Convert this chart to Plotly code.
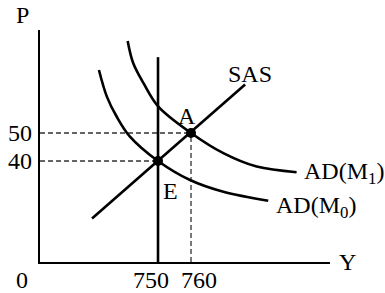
import plotly.graph_objects as go

# ---- data ----
ad1_y = [740.8, 742.5, 745.6, 750.1, 760.0, 769.8, 779.9, 792.0]
ad1_p = [82.9, 74.9, 67.8, 59.4, 50.0, 42.8, 38.0, 36.0]
ad0_y = [732.1, 734.5, 737.5, 741.5, 750.0, 759.7, 769.8, 783.4]
ad0_p = [72.5, 63.0, 55.8, 48.7, 40.0, 33.2, 29.0, 25.8]
sas_y = [730.0, 776.4]
sas_p = [19.5, 67.3]
las_y = [750.0, 750.0]
las_p = [3.93, 77.1]
eq_names = ["E", "A"]
eq_y = [750, 760]
eq_p = [40, 50]
x_ticks = [750, 760]
x_tick_text = ["750", "760"]
y_ticks = [40, 50]
y_tick_text = ["40", "50"]
x_range = [714.24, 802.12]
y_range = [3.93, 86.79]

FONT = "Liberation Serif, Times New Roman, serif"
FS = 24
W, H = 385, 293
L, R, T, B = 40, 55, 30, 31

fig = go.Figure()

dash_style = dict(color="#333", width=1.3, dash="5px,3px")
fig.add_trace(go.Scatter(x=[x_range[0], eq_y[0]], y=[eq_p[0], eq_p[0]], mode="lines",
                         line=dash_style, hoverinfo="skip"))
fig.add_trace(go.Scatter(x=[x_range[0], eq_y[1]], y=[eq_p[1], eq_p[1]], mode="lines",
                         line=dash_style, hoverinfo="skip"))
fig.add_trace(go.Scatter(x=[eq_y[1], eq_y[1]], y=[y_range[0], eq_p[1]], mode="lines",
                         line=dash_style, hoverinfo="skip"))

line_style = dict(color="black", width=2.6)
fig.add_trace(go.Scatter(x=las_y, y=las_p, mode="lines", line=line_style))
fig.add_trace(go.Scatter(x=sas_y, y=sas_p, mode="lines", line=line_style))
fig.add_trace(go.Scatter(x=ad0_y, y=ad0_p, mode="lines", line=dict(shape="spline", **line_style)))
fig.add_trace(go.Scatter(x=ad1_y, y=ad1_p, mode="lines", line=dict(shape="spline", **line_style)))
fig.add_trace(go.Scatter(x=eq_y, y=eq_p, mode="markers", marker=dict(color="black", size=10)))

tf = dict(family=FONT, size=FS, color="black")

def add_text(**kw):
    fig.add_annotation(showarrow=False, font=tf, **kw)

add_text(x=eq_y[1], y=eq_p[1], text="A", xanchor="center", yanchor="middle", xshift=-4, yshift=17)
add_text(x=eq_y[0], y=eq_p[0], text="E", xanchor="center", yanchor="middle", xshift=12, yshift=-30)
add_text(x=sas_y[1], y=sas_p[1], text="SAS", xanchor="center", yanchor="middle", xshift=5, yshift=11)
add_text(x=ad1_y[-1], y=ad1_p[-1], text="AD(M<sub>1</sub>)", xanchor="left", yanchor="middle",
         xshift=5, yshift=-1)
add_text(x=ad0_y[-1], y=ad0_p[-1], text="AD(M<sub>0</sub>)", xanchor="left", yanchor="middle",
         xshift=6, yshift=-6)

# tick labels
x_tick_shift = [-7, 8]
for v, t, s in zip(x_ticks, x_tick_text, x_tick_shift):
    add_text(x=v, y=0, yref="paper", text=t, xanchor="center", yanchor="middle", xshift=s, yshift=-18)
for v, t in zip(y_ticks, y_tick_text):
    add_text(x=0, xref="paper", y=v, text=t, xanchor="right", yanchor="middle", xshift=-6)

# axis titles and origin (pixel positions -> paper coordinates)
def px2paper(px, py):
    return (px - L) / (W - L - R), 1 - (py - T) / (H - T - B)

for txt, px, py in [("P", 22, 15), ("0", 22, 280), ("Y", 347, 262)]:
    xp, yp = px2paper(px, py)
    add_text(x=xp, y=yp, xref="paper", yref="paper", text=txt, xanchor="center", yanchor="middle")

fig.update_layout(
    width=W, height=H, margin=dict(l=L, r=R, t=T, b=B, autoexpand=False),
    paper_bgcolor="white", plot_bgcolor="white", showlegend=False,
    font=tf,
    xaxis=dict(range=x_range, showgrid=False, zeroline=False, showline=True, linecolor="black",
               linewidth=2, showticklabels=False, ticks="", automargin=False),
    yaxis=dict(range=y_range, showgrid=False, zeroline=False, showline=True, linecolor="black",
               linewidth=2, showticklabels=False, ticks="", automargin=False),
)
fig.write_html("out.html", config={"displayModeBar": False},
               post_script="document.body.style.margin='0';document.body.style.overflow='hidden';")
